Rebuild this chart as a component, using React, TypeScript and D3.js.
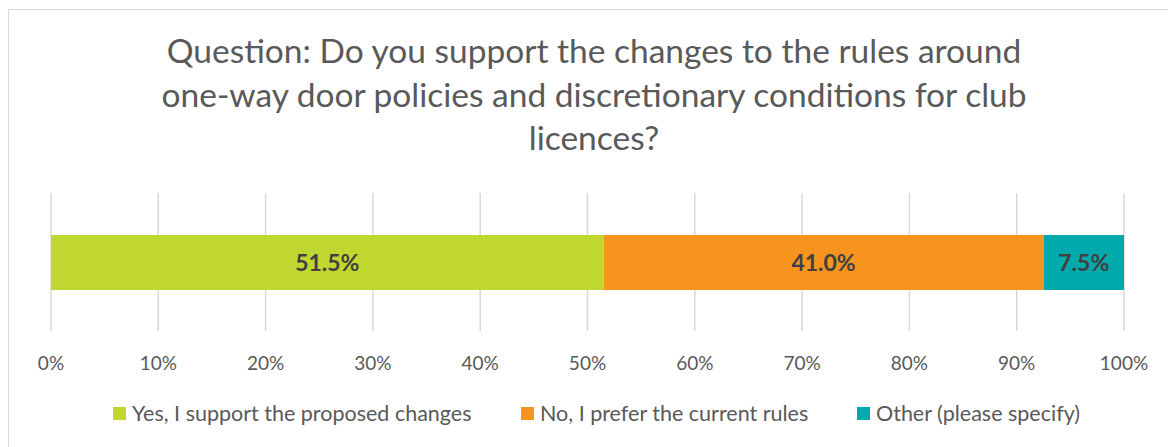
import React from "react";
import * as d3 from "d3";

const categories = ["Yes, I support the proposed changes", "No, I prefer the current rules", "Other (please specify)"];
const values = [51.5, 41.0, 7.5];
const colors = ["#C0D72F", "#F7941D", "#00A9AC"];
const ticks = [0, 10, 20, 30, 40, 50, 60, 70, 80, 90, 100];
const titleLines = [
  "Question: Do you support the changes to the rules around",
  "one-way door policies and discretionary conditions for club",
  "licences?",
];

const W = 1168, H = 447;
const FONT = "Lato, 'Open Sans', sans-serif";

export default function App() {
  const x = d3.scaleLinear().domain([0, 100]).range([51, 1124]);
  const stacked = values.reduce<{ v: number; s: number }[]>((acc, v) => {
    const s = acc.length ? acc[acc.length - 1].s + acc[acc.length - 1].v : 0;
    acc.push({ v, s });
    return acc;
  }, []);
  const legendX = [113, 521, 857];
  return (
    <svg width={W} height={H} style={{ position: "absolute", left: 0, top: 0 }}>
      <rect x={8.5} y={9.5} width={W + 10} height={H + 10} fill="#fff" stroke="#d9d9d9" />
      {titleLines.map((t, i) => (
        <text key={i} x={594} y={63 + i * 43.5} textAnchor="middle" fontFamily={FONT} fontSize={33.5} fill="#595959">
          {t}
        </text>
      ))}
      {ticks.map((t) => (
        <g key={t}>
          <line x1={x(t)} x2={x(t)} y1={193} y2={331} stroke="#d9d9d9" strokeWidth={1.5} />
          <text x={x(t)} y={370} textAnchor="middle" fontFamily={FONT} fontSize={19} fill="#595959">
            {t}%
          </text>
        </g>
      ))}
      {stacked.map((d, i) => (
        <g key={i}>
          <rect x={x(d.s)} y={235} width={x(d.s + d.v) - x(d.s)} height={55} fill={colors[i]} />
          <text x={(x(d.s) + x(d.s + d.v)) / 2} y={271} textAnchor="middle" fontFamily={FONT} fontWeight="bold" fontSize={23} fill="#404040">
            {d.v.toFixed(1)}%
          </text>
        </g>
      ))}
      {categories.map((c, i) => (
        <g key={c}>
          <rect x={legendX[i]} y={407} width={13} height={13} fill={colors[i]} />
          <text x={legendX[i] + 19} y={421} fontFamily={FONT} fontSize={21.5} fill="#595959">
            {c}
          </text>
        </g>
      ))}
    </svg>
  );
}
